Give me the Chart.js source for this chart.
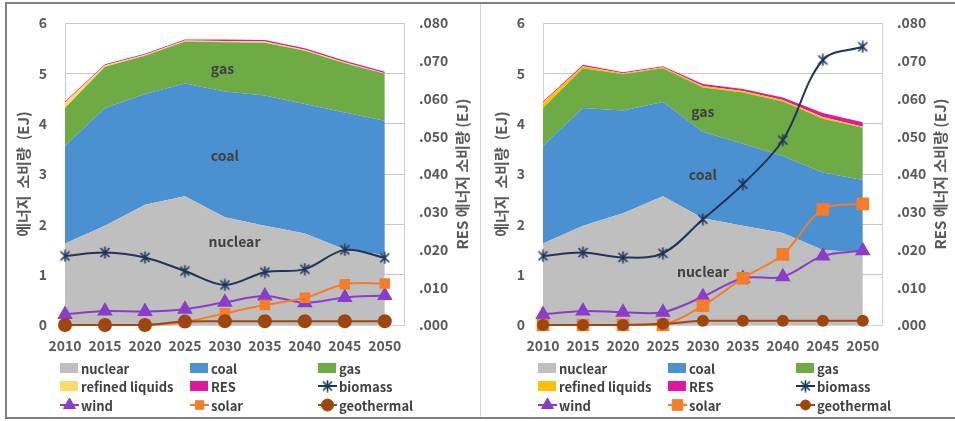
<!DOCTYPE html>
<html>
<head>
<meta charset="utf-8">
<script src="https://cdn.jsdelivr.net/npm/chart.js@4.4.1/dist/chart.umd.min.js"></script>
<style>
	body { margin: 0; background: #fff; }
	#wrap { position: relative; width: 955px; height: 421px; overflow: hidden; }
	canvas { position: absolute; top: 0; }
	#frame { position: absolute; left: 5px; top: 2px; width: 960px; height: 413px; border: 2px solid #808080; border-right: none; }
	#divider { position: absolute; left: 480px; top: 4px; width: 1px; height: 413px; background: #d4d4d4; }
</style>
</head>
<body>
<div id="wrap">
	<canvas id="chartA" width="478" height="421" style="left:0"></canvas>
	<canvas id="chartB" width="478" height="421" style="left:478px"></canvas>
	<div id="frame"></div>
	<div id="divider"></div>
</div>
<script>
// Data
const years = [2010, 2015, 2020, 2025, 2030, 2035, 2040, 2045, 2050];
const legendOrder = ["nuclear", "coal", "gas", "refined liquids", "RES", "biomass", "wind", "solar", "geothermal"];

// left chart (EJ, stacked)
const nuclearA = [1.62, 1.97, 2.39, 2.56, 2.14, 1.97, 1.82, 1.50, 1.39];
const coalA = [1.94, 2.34, 2.20, 2.24, 2.50, 2.59, 2.57, 2.72, 2.67];
const gasA = [0.75, 0.82, 0.76, 0.83, 0.98, 1.05, 1.06, 0.98, 0.93];
const refinedA = [0.11, 0.03, 0.02, 0.02, 0.02, 0.02, 0.02, 0.02, 0.01];
const resA = [0.02, 0.02, 0.02, 0.02, 0.03, 0.03, 0.03, 0.03, 0.03];
// left chart, RES breakdown (secondary axis)
const biomassA = [0.0183, 0.0192, 0.0179, 0.0143, 0.0106, 0.0140, 0.0148, 0.0199, 0.0178];
const windA = [0.0028, 0.0037, 0.0036, 0.0042, 0.0060, 0.0077, 0.0059, 0.0073, 0.0078];
const solarA = [0, 0, 0, 0.0008, 0.0031, 0.0053, 0.0072, 0.0108, 0.0110];
const geoA = [0, 0, 0, 0.0009, 0.0010, 0.0010, 0.0010, 0.0010, 0.0010];

// right chart (EJ, stacked)
const nuclearB = [1.62, 1.97, 2.22, 2.56, 2.12, 1.97, 1.83, 1.49, 1.44];
const coalB = [1.94, 2.34, 2.04, 1.87, 1.72, 1.63, 1.53, 1.54, 1.44];
const gasB = [0.75, 0.79, 0.72, 0.67, 0.88, 1.02, 1.08, 1.07, 1.04];
const refinedB = [0.11, 0.04, 0.02, 0.02, 0.03, 0.03, 0.03, 0.03, 0.02];
const resB = [0.02, 0.03, 0.02, 0.02, 0.04, 0.04, 0.05, 0.08, 0.09];
// right chart, RES breakdown (secondary axis)
const biomassB = [0.0183, 0.0192, 0.0179, 0.0190, 0.0280, 0.0373, 0.0490, 0.0702, 0.0737];
const windB = [0.0028, 0.0037, 0.0034, 0.0034, 0.0075, 0.0124, 0.0128, 0.0183, 0.0197];
const solarB = [0, 0, 0, 0, 0.0051, 0.0124, 0.0187, 0.0306, 0.0321];
const geoB = [0, 0, 0, 0.0003, 0.0011, 0.0011, 0.0011, 0.0011, 0.0011];

// labels written inside the areas (x = year, y = EJ)
const areaLabelsA = [
	{ text: "gas", x: 2029.7, y: 5.1 },
	{ text: "coal", x: 2030, y: 3.37 },
	{ text: "nuclear", x: 2031.2, y: 1.66 },
];
const areaLabelsB = [
	{ text: "gas", x: 2030, y: 4.24 },
	{ text: "coal", x: 2030, y: 2.98 },
	{ text: "nuclear", x: 2030, y: 1.05 },
];

const FONT = "'Noto Sans CJK KR', 'Noto Sans', sans-serif";
Chart.defaults.font.family = FONT;
Chart.defaults.color = "#595959";

// --------------------------- Markers ---------------------------
function starMarker(color) {
	const c = document.createElement("canvas");
	c.width = 13;
	c.height = 13;
	const g = c.getContext("2d");
	g.strokeStyle = color;
	g.lineWidth = 1.6;
	g.beginPath();
	g.moveTo(2, 2); g.lineTo(11, 11);
	g.moveTo(11, 2); g.lineTo(2, 11);
	g.moveTo(6.5, 0.5); g.lineTo(6.5, 12.5);
	g.stroke();
	return c;
}

const pts = (vals) => years.map((yr, i) => ({ x: yr, y: vals[i] }));

// keeps the tick padding from pushing the plot top down
function fixVertical(width) {
	return (scale) => {
		scale.width = width;
		scale.paddingTop = 9;
		scale.paddingBottom = 9;
	};
}

// --------------------------- Plugins ---------------------------
const extrasPlugin = {
	id: "extras",
	afterDatasetsDraw(chart, args, opts) {
		const { ctx, scales } = chart;
		ctx.save();
		ctx.font = `bold 14px ${FONT}`;
		ctx.fillStyle = "#404040";
		ctx.textAlign = "center";
		ctx.textBaseline = "middle";
		opts.labels.forEach((l) => {
			ctx.fillText(l.text, scales.x.getPixelForValue(l.x), scales.y.getPixelForValue(l.y));
		});
		ctx.restore();
	},
	afterDraw(chart) {
		// right axis title reads bottom-to-top like the left one
		const { ctx, chartArea } = chart;
		ctx.save();
		ctx.translate(462, (chartArea.top + chartArea.bottom) / 2);
		ctx.rotate(-Math.PI / 2);
		ctx.font = `bold 15px ${FONT}`;
		ctx.fillStyle = "#595959";
		ctx.textAlign = "center";
		ctx.textBaseline = "middle";
		ctx.fillText("RES 에너지 소비량 (EJ)", 0, 0);
		ctx.restore();
	},
};

const gridLegend = {
	id: "gridLegend",
	afterDraw(chart) {
		const ctx = chart.ctx;
		const cols = [60, 190, 318];
		const rows = [368, 386, 405];
		ctx.save();
		ctx.font = `bold 13px ${FONT}`;
		ctx.textBaseline = "middle";
		legendOrder.forEach((name, i) => {
			const ds = chart.data.datasets.find((d) => d.label === name);
			const x = cols[i % 3];
			const y = rows[Math.floor(i / 3)];
			if (ds.fill !== false) {
				ctx.fillStyle = ds.backgroundColor;
				ctx.fillRect(x, y - 5, 18, 10);
			} else {
				ctx.strokeStyle = ds.borderColor;
				ctx.lineWidth = 2;
				ctx.beginPath();
				ctx.moveTo(x, y);
				ctx.lineTo(x + 19, y);
				ctx.stroke();
				ctx.fillStyle = ds.pointBackgroundColor;
				ctx.strokeStyle = ds.pointBorderColor;
				ctx.lineWidth = 1;
				Chart.helpers.drawPoint(ctx, { pointStyle: ds.pointStyle, radius: ds.pointRadius, rotation: 0, borderWidth: 1 }, x + 9.5, y);
			}
			ctx.fillStyle = "#404040";
			ctx.fillText(name, x + 21, y + 1);
		});
		ctx.restore();
	},
};

// --------------------------- Chart Builder ---------------------------
function buildChart(canvasId, s) {
	const area = (label, vals, color, first) => ({
		label,
		data: pts(vals),
		yAxisID: "y",
		backgroundColor: color,
		borderWidth: 0,
		pointRadius: 0,
		fill: first ? "origin" : "-1",
		order: 5,
	});
	const line = (label, vals, color, style, radius, order) => ({
		label,
		data: pts(vals),
		yAxisID: "y1",
		borderColor: color,
		borderWidth: 2,
		pointStyle: style,
		pointRadius: radius,
		pointBackgroundColor: color,
		pointBorderColor: color,
		tension: 0.35,
		fill: false,
		clip: false,
		order,
	});

	return new Chart(document.getElementById(canvasId), {
		type: "line",
		data: {
			datasets: [
				area("nuclear", s.nuclear, "#bfbfbf", true),
				area("coal", s.coal, "#4b91d2"),
				area("gas", s.gas, "#6fab45"),
				area("refined liquids", s.refined, s.refinedColor),
				area("RES", s.res, "#dd1a9c"),
				line("geothermal", s.geo, "#9e4610", "circle", s.geoRadius, 0),
				line("solar", s.solar, "#f27d2b", "rect", s.solarRadius, 1),
				line("wind", s.wind, "#8a3dc9", "triangle", 7, 1),
				line("biomass", s.biomass, "#1f3459", starMarker("#1f3459"), 6, 1),
			],
		},
		options: {
			responsive: false,
			animation: false,
			layout: { padding: { top: 23, bottom: 61, left: 0, right: 0 } },
			scales: {
				x: {
					type: "linear",
					min: 2010,
					max: 2052.4,
					grid: { display: false, drawTicks: false },
					border: { display: true, color: "#d0d0d0" },
					afterBuildTicks: (scale) => {
						scale.ticks = years.map((v) => ({ value: v }));
					},
					afterFit: (scale) => {
						scale.height = 35;
					},
					ticks: {
						padding: 12,
						autoSkip: false,
						maxRotation: 0,
						color: "#595959",
						font: { size: 14, weight: "bold" },
						callback: (v) => String(v),
					},
				},
				y: {
					position: "left",
					stacked: true,
					min: 0,
					max: 6,
					grid: { color: "#c8c8c8", drawTicks: false },
					border: { display: true, color: "#d0d0d0" },
					ticks: { stepSize: 1, padding: 18, font: { size: 14, weight: "bold" } },
					title: {
						display: true,
						text: "에너지  소비량  (EJ)",
						color: "#595959",
						font: { size: 15, weight: "bold" },
						padding: { top: 14, bottom: 0 },
					},
					afterFit: fixVertical(65),
				},
				y1: {
					position: "right",
					min: 0,
					max: 0.08,
					grid: { display: false, drawTicks: false },
					border: { display: true, color: "#d0d0d0" },
					ticks: {
						stepSize: 0.01,
						padding: 15,
						font: { size: 14, weight: "bold" },
						callback: (v) => v.toFixed(3).replace(/^0/, ""),
					},
					afterFit: fixVertical(74),
				},
			},
			plugins: {
				legend: { display: false },
				tooltip: { enabled: false },
				extras: { labels: s.labels },
			},
		},
		plugins: [extrasPlugin, gridLegend],
	});
}

buildChart("chartA", {
	nuclear: nuclearA, coal: coalA, gas: gasA, refined: refinedA, res: resA,
	biomass: biomassA, wind: windA, solar: solarA, geo: geoA,
	refinedColor: "#ffd966", geoRadius: 6, solarRadius: 6, labels: areaLabelsA,
});
buildChart("chartB", {
	nuclear: nuclearB, coal: coalB, gas: gasB, refined: refinedB, res: resB,
	biomass: biomassB, wind: windB, solar: solarB, geo: geoB,
	refinedColor: "#ffc000", geoRadius: 5, solarRadius: 7.5, labels: areaLabelsB,
});
</script>
</body>
</html>
